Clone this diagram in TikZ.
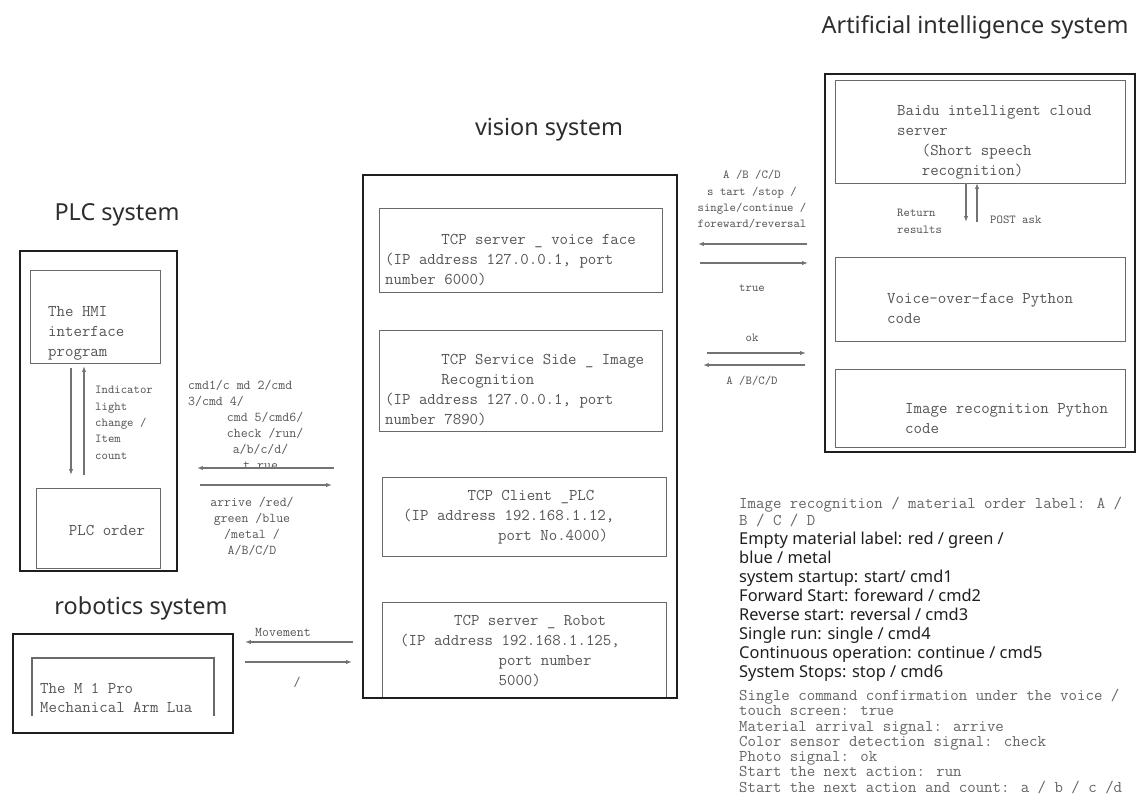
\documentclass[tikz,border=0pt]{standalone}
\usepackage{fontspec}
\setsansfont{Noto Sans}
\usepackage{tikz}
\usetikzlibrary{arrows.meta}
\definecolor{framegray}{RGB}{30,30,30}
\definecolor{boxgray}{RGB}{105,105,105}
\definecolor{textgray}{RGB}{85,85,85}
\definecolor{titlegray}{RGB}{45,45,45}
\definecolor{arrowgray}{RGB}{115,115,115}
\definecolor{legendgray}{RGB}{100,100,100}
\definecolor{legendink}{RGB}{30,30,30}

\begin{document}
\begin{tikzpicture}[x=0.03cm, y=-0.03cm, >={Latex[length=5pt,width=3.6pt]},
  sysbox/.style 2 args={draw=framegray, line width=1.7pt, minimum width=#1*0.3mm,
    minimum height=#2*0.3mm, anchor=north west, inner sep=0},
  unitbox/.style 2 args={draw=boxgray, line width=0.9pt, minimum width=#1*0.3mm,
    minimum height=#2*0.3mm, anchor=north west, inner sep=0},
  title/.style={font=\sffamily\fontsize{20}{24}\selectfont, text=titlegray},
  mono/.style={font=\ttfamily\fontsize{14}{17}\selectfont, text=textgray,
    inner sep=0, align=left, anchor=north west},
  note/.style={font=\ttfamily\fontsize{11.5}{13.7}\selectfont, text=textgray, inner sep=0},
  tiny/.style={font=\ttfamily\fontsize{10.4}{14}\selectfont, text=textgray, inner sep=0},
  flow/.style={->, draw=arrowgray, line width=0.9pt}]
  \useasboundingbox[fill=white] (0,0) rectangle (1141,799);

  % system titles
  \node[title] (aititle) at (975,27) {Artificial intelligence system};
  \node[title] (vistitle) at (549,130) {vision system};
  \node[title] (plctitle) at (117,215) {PLC system};
  \node[title] (robtitle) at (141,608) {robotics system};

  % PLC system
  \node[sysbox={157}{320}] (plc) at (19,250) {};
  \node[unitbox={130}{93}] (hmi) at (30,270) {};
  \node[unitbox={124}{80}] (plcord) at (36,488) {};
  \node[mono] (hmitxt) at (48,306) {The HMI\\interface\\program};
  \node[mono, anchor=center] (plcordtxt) at (107,530) {PLC order};
  \node[tiny, align=left, anchor=north west] (indtxt) at (95,386)
    {Indicator\\light\\change /\\Item\\count};
  \coordinate (hmiout) at (71,368);  \coordinate (ordin) at (71,475);
  \coordinate (ordout) at (84,475);  \coordinate (hmiin) at (84,366);
  \draw[flow] (hmiout) -- (ordin);
  \draw[flow] (ordout) -- (hmiin);

  % vision system
  \node[sysbox={314}{523}] (vis) at (362,174) {};
  \node[unitbox={283}{84}] (vface) at (379,208) {};
  \node[unitbox={283}{101}] (vimg) at (379,330) {};
  \node[unitbox={284}{79}] (vplc) at (382,477) {};
  \node[unitbox={284}{95}] (vrob) at (382,602) {};
  \node[mono] (vfacetxt) at (385,234)
    {\hspace*{48pt}TCP server \_ voice face\\(IP address 127.0.0.1, port\\number 6000)};
  \node[mono] (vimgtxt) at (385,354)
    {\hspace*{48pt}TCP Service Side \_ Image\\\hspace*{48pt}Recognition\\(IP address 127.0.0.1, port\\number 7890)};
  \node[mono] (vplctxt) at (403,490)
    {\hspace*{55pt}TCP Client \_PLC\\(IP address 192.168.1.12,\\\hspace*{81pt}port No.4000)};
  \node[mono] (vrobtxt) at (400,615)
    {\hspace*{46pt}TCP server \_ Robot\\(IP address 192.168.1.125,\\\hspace*{84pt}port number\\\hspace*{84pt}5000)};
  \node[sysbox={314}{523}, fill=none] (visedge) at (362,174) {};

  % artificial intelligence system
  \node[sysbox={310}{378}] (ai) at (824,73) {};
  \node[unitbox={290}{103}] (baidu) at (835,80) {};
  \node[unitbox={290}{84}] (vofpy) at (835,257) {};
  \node[unitbox={290}{78}] (imgpy) at (835,369) {};
  \node[mono] (baidutxt) at (897,105)
    {Baidu intelligent cloud\\server\\\hspace*{21pt}(Short speech\\\hspace*{21pt}recognition)};
  \node[mono] (vofpytxt) at (887,293) {Voice-over-face Python\\code};
  \node[mono] (imgpytxt) at (905,403) {Image recognition Python\\code};
  \node[tiny, align=left, anchor=north west] (rettxt) at (897,209) {Return\\results};
  \node[tiny, anchor=west] (posttxt) at (990,220) {POST ask};
  \coordinate (bdout) at (966,183);  \coordinate (bdret) at (966,222);
  \coordinate (pyout) at (977,222);  \coordinate (bdin) at (977,183);
  \draw[flow] (bdout) -- (bdret);
  \draw[flow] (pyout) -- (bdin);

  % vision <-> artificial intelligence
  \node[tiny, align=center, anchor=north] (voicecmd) at (752,170)
    {A /B /C/D\\s tart /stop /\\single/continue /\\foreward/reversal};
  \node[tiny] (truetxt) at (752,288) {true};
  \node[tiny] (oktxt) at (752,338) {ok};
  \node[tiny] (abcdtxt) at (752,381) {A /B/C/D};
  \coordinate (aiv1) at (807,244);  \coordinate (vai1) at (698,244);
  \coordinate (vai2) at (700,263);  \coordinate (aiv2) at (808,263);
  \coordinate (vai3) at (707,353);  \coordinate (aiv3) at (806,353);
  \coordinate (aiv4) at (805,365);  \coordinate (vai4) at (703,365);
  \draw[flow] (aiv1) -- (vai1);
  \draw[flow] (vai2) -- (aiv2);
  \draw[flow] (vai3) -- (aiv3);
  \draw[flow] (aiv4) -- (vai4);

  % vision <-> PLC
  \node[note, align=left, anchor=north west] (plccmd) at (188,380)
    {cmd1/c md 2/cmd\\3/cmd 4/\\\hspace*{33pt}cmd 5/cmd6/\\\hspace*{33pt}check /run/\\\hspace*{38pt}a/b/c/d/\\\hspace*{47pt}t rue};
  \node[note, align=center, anchor=north] (plcsig) at (252,497)
    {arrive /red/\\green /blue\\/metal /\\A/B/C/D};
  \coordinate (vp1) at (334,468);  \coordinate (pv1) at (197,468);
  \coordinate (pv2) at (200,485);  \coordinate (vp2) at (332,485);
  \draw[flow] (vp1) -- (pv1);
  \draw[flow] (pv2) -- (vp2);

  % robotics system
  \node[sysbox={220}{99}] (rob) at (12,633) {};
  \draw[draw=boxgray, line width=0.9pt] (32,716) |- (214,658) -- (214,716);
  \node[mono, font=\ttfamily\fontsize{14}{16.2}\selectfont] (armtxt) at (40,683)
    {The M 1 Pro\\Mechanical Arm Lua};
  \node[note] (movetxt) at (283,632) {Movement};
  \node[note] (slashtxt) at (297,682) {/};
  \coordinate (vr1) at (353,642);  \coordinate (rv1) at (245,642);
  \coordinate (rv2) at (245,662);  \coordinate (vr2) at (352,662);
  \draw[flow] (vr1) -- (rv1);
  \draw[flow] (rv2) -- (vr2);

  % label legend
  \node[mono, font=\ttfamily\fontsize{14}{14.5}\selectfont, text=legendgray] (leg1) at (739,497)
    {Image recognition / material order label: A /\\B / C / D};
  \node[font=\sffamily\fontsize{14}{16.2}\selectfont, text=legendink, inner sep=0,
    align=left, anchor=north west] (leg2) at (739,532)
    {Empty material label: red / green /\\blue / metal\\system startup: start/ cmd1\\Forward Start: foreward / cmd2\\Reverse start: reversal / cmd3\\Single run: single / cmd4\\Continuous operation: continue / cmd5\\System Stops: stop / cmd6};
  \node[mono, font=\ttfamily\fontsize{14}{13}\selectfont, text=legendgray] (leg3) at (739,689)
    {Single command confirmation under the voice /\\touch screen: true\\Material arrival signal: arrive\\Color sensor detection signal: check\\Photo signal: ok\\Start the next action: run\\Start the next action and count: a / b / c /d};
\end{tikzpicture}
\end{document}
